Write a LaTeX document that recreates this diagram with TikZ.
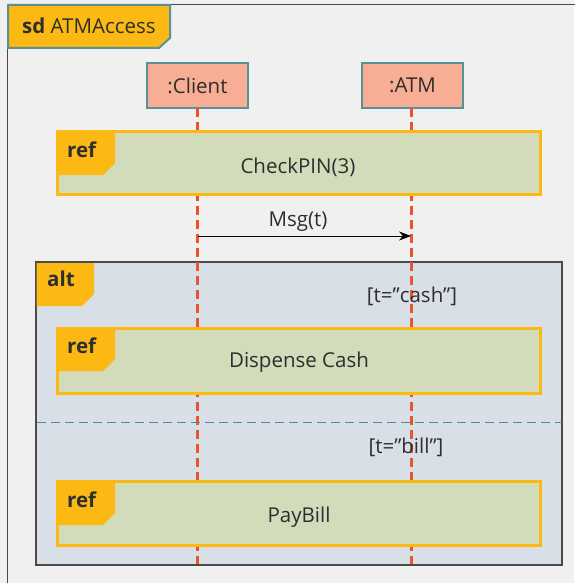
\documentclass[tikz,border=0pt]{standalone}
\usepackage{fontspec}
\setmainfont{Open Sans}
\usetikzlibrary{arrows.meta}
\definecolor{bgc}{HTML}{F0F0F0}
\definecolor{tabc}{HTML}{FDB913}
\definecolor{reff}{HTML}{D3DCBA}
\definecolor{altf}{HTML}{D8DFE6}
\definecolor{headf}{HTML}{F8AD95}
\definecolor{headb}{HTML}{5A9098}
\definecolor{lifec}{HTML}{E8552A}
\definecolor{sepc}{HTML}{4A8C9A}
\definecolor{framec}{HTML}{4A4A4A}
\definecolor{txtc}{HTML}{2E2E2E}
\tikzset{
  txt/.style={text=txtc, font=\fontsize{20.5}{22}\selectfont, inner sep=0pt},
  btxt/.style={text=txtc, font=\fontsize{20.5}{22}\selectfont\bfseries, inner sep=0pt},
  head/.style={draw=headb, fill=headf, line width=2pt, minimum width=101pt, minimum height=45pt, inner sep=0pt, text=txtc, font=\fontsize{20.5}{22}\selectfont},
  refbox/.style={draw=tabc, fill=reff, line width=3pt, minimum width=483pt, inner sep=0pt},
  lifeline/.style={draw=lifec, line width=2.2pt, dash pattern=on 9pt off 5pt},
  tabfill/.style={fill=tabc},
  msg/.style={draw=black, line width=0.8pt, -{Stealth[length=12pt,width=9pt]}},
}
\begin{document}
\begin{tikzpicture}[x=1pt,y=-1pt]
\useasboundingbox (0,0) rectangle (574,583);
\fill[bgc] (0,0) rectangle (574,583);
% outer frame
\draw[framec, line width=1.5pt] (7.5,590) -- (7.5,4.5) -- (580,4.5);
% sd tab
\draw[fill=tabc, draw=headb, line width=2pt] (8,5) -- (170,5) -- (170,38) -- (159,48) -- (8,48) -- cycle;
\node[txt, anchor=west] (sd) at (22,26) {\textbf{sd} ATMAccess};
% alt fragment
\node[draw=framec, fill=altf, line width=1.5pt, minimum width=526pt, minimum height=303pt, inner sep=0pt] (alt) at (299,413.5) {};
\fill[tabc] (36.5,263) -- (94,263) -- (94,294) -- (82,306) -- (36.5,306) -- cycle;
\node[btxt, anchor=west] (altlbl) at (47,279) {alt};
% lifelines
\node[head] (client) at (197.5,85.5) {:Client};
\node[head] (atm) at (412.5,85.5) {:ATM};
\coordinate (cend) at (197.5,564);
\coordinate (aend) at (411.5,564);
\draw[lifeline] (197.5,108) -- (cend);
\draw[lifeline] (411.5,108) -- (aend);
% separator
\coordinate (sepl) at (37,422);
\coordinate (sepr) at (562,422);
\draw[sepc, line width=1pt, dash pattern=on 9pt off 5pt] (sepl) -- (sepr);
% ref CheckPIN
\node[refbox, minimum height=63pt] (r1) at (298.5,163) {};
\fill[tabc] (57,131) -- (115,131) -- (115,163) -- (103,175) -- (57,175) -- cycle;
\node[btxt, anchor=west] (r1lbl) at (67,150) {ref};
\node[txt] (r1txt) at (298,167) {CheckPIN(3)};
% message
\coordinate (m1) at (197.5,236);
\coordinate (m2) at (411,236);
\draw[msg] (m1) -- (m2);
\node[txt] (msglbl) at (298,222) {Msg(t)};
% guard 1
\node[txt] (g1) at (412,296) {[t=”cash”]};
% ref Dispense Cash
\node[refbox, minimum height=65pt] (r2) at (298.5,361) {};
\fill[tabc] (57,328) -- (115,328) -- (115,359) -- (103,371) -- (57,371) -- cycle;
\node[btxt, anchor=west] (r2lbl) at (67,346) {ref};
\node[txt] (r2txt) at (299,362) {Dispense Cash};
% guard 2
\node[txt] (g2) at (406,447) {[t=”bill”]};
% ref PayBill
\node[refbox, minimum height=64pt] (r3) at (298.5,513.5) {};
\fill[tabc] (57,481) -- (115,481) -- (115,513) -- (103,525) -- (57,525) -- cycle;
\node[btxt, anchor=west] (r3lbl) at (67,500) {ref};
\node[txt] (r3txt) at (299,517) {PayBill};
\end{tikzpicture}
\end{document}
